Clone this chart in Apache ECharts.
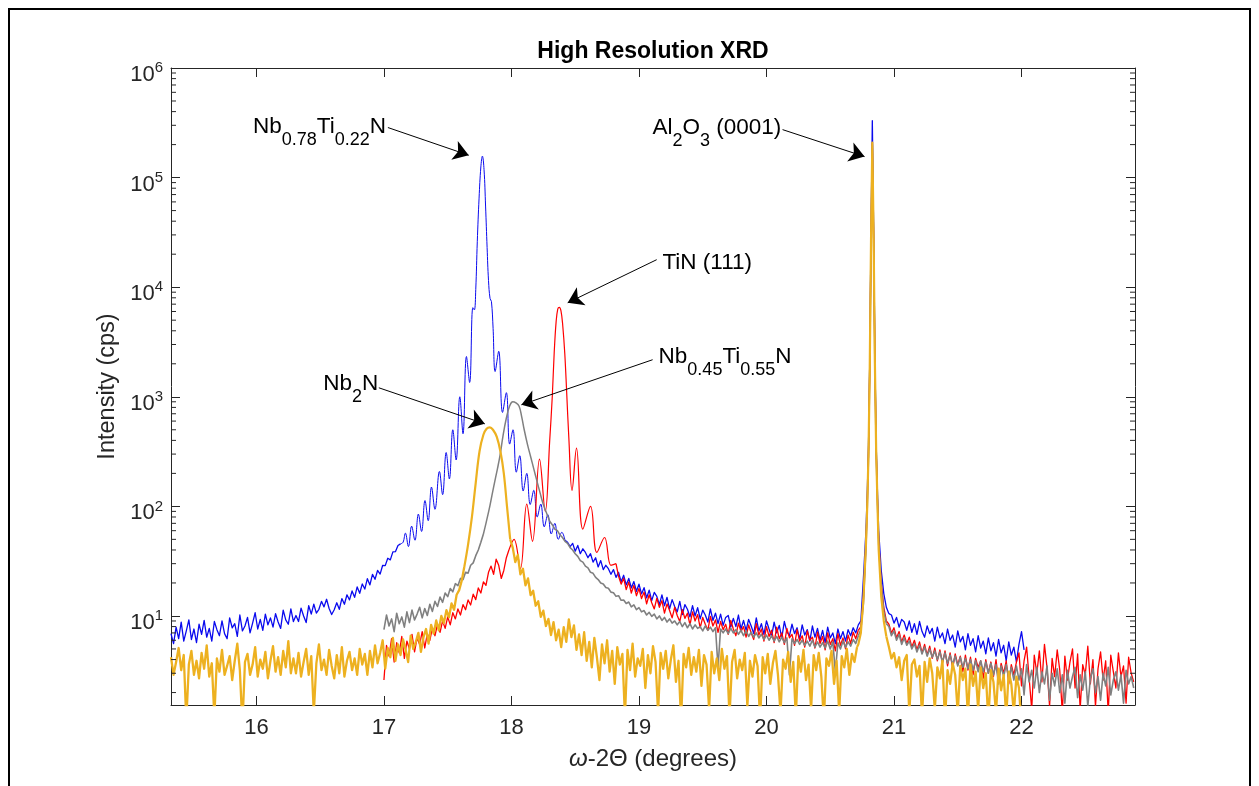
<!DOCTYPE html>
<html><head><meta charset="utf-8">
<script src="https://cdn.jsdelivr.net/npm/echarts@6/dist/echarts.min.js"></script>
<style>
html,body{margin:0;padding:0;background:#fff;overflow:hidden;}
#frame{position:absolute;left:8px;top:8px;width:1243px;height:900px;border:2px solid #000;box-sizing:border-box;}
#chart{position:absolute;left:0;top:0;width:1259px;height:786px;}
</style></head><body>
<div id="frame"></div>
<div id="chart"></div>
<script>
// ===================== DATA =====================
// Nb0.78Ti0.22N (blue)
const blueNoiseLeft = [ // 15.33 .. 17.13, step 0.02
6.9,5.6,7.9,6.2,8.8,5.9,7.3,9.2,6.1,7.6,
5.7,8.4,6.8,9.1,6.4,7.7,5.9,8.9,7.5,6.6,
9.0,6.9,6.2,9.6,7.8,8.5,6.5,10.2,7.3,8.1,
9.7,7.0,8.6,10.7,7.6,9.3,7.4,10.4,8.3,9.6,
7.9,10.5,8.8,7.7,11.3,9.2,8.4,11.6,8.9,10.1,
8.9,11.8,10.0,8.7,12.4,10.4,12.8,10.6,11.5,13.6,
12.1,14.2,11.7,10.3,11.4,13.2,11.5,14.4,12.8,15.6,
14.0,16.9,14.8,18.4,16.1,19.6,17.6,21.9,19.2,24.0,
21.6,26.0,24.1,29.0,28.8,33.6,32.5,38.4,38.6,44.0,45.5];
const blueFringes = [ // [2theta, cps] extrema of the thickness fringes
[17.15,47],[17.168,57],[17.192,43],[17.217,66],[17.243,49],[17.27,85],[17.295,59],[17.322,113],
[17.347,74],[17.373,150],[17.40,94],[17.435,208],[17.46,128],[17.488,310],[17.513,178],[17.54,500],
[17.566,265],[17.595,1000],[17.62,460],[17.647,2330],[17.672,1350],[17.697,6500],[17.709,6200],
[17.72,9500],[17.732,26000],[17.746,65000],[17.76,125000],[17.772,157000],[17.785,118000],
[17.797,55000],[17.809,23000],[17.82,11500],[17.832,7900],[17.843,7400],[17.856,4200],[17.872,1700],
[17.90,2600],[17.93,720],[17.96,1090],[17.986,370],[18.012,500],[18.038,205],[18.065,290],
[18.092,138],[18.12,200],[18.147,104],[18.175,140],[18.202,80],[18.23,105],[18.257,65],[18.285,84],
[18.312,56],[18.34,70],[18.367,50],[18.395,58],[18.42,49]];
const blueNoiseRight = [ // 18.44 .. 20.74, step 0.02
47,43,46,39,44,37,41,38,34,37,
31,34,28,32,26.5,29,27,24,26.5,22.5,
25,20.5,23.5,19.2,22,18.0,20.6,16.8,19.5,15.9,
18.1,14.6,17.2,13.8,16.4,15.1,12.7,15.6,12.4,14.8,
11.6,14.1,12.2,10.9,13.6,10.3,12.7,11.5,9.8,12.4,
10.0,11.9,9.4,11.3,10.2,8.8,11.6,9.1,10.6,8.5,
10.4,8.2,9.7,10.1,7.9,9.5,8.0,10.2,7.6,9.1,
7.4,9.3,8.1,6.9,9.6,7.3,8.5,6.8,9.0,7.6,
6.5,8.8,7.0,8.2,6.3,8.9,7.2,6.6,8.4,6.9,
7.8,6.1,8.3,6.7,7.5,5.9,8.1,6.4,7.7,6.0,
7.4,5.7,7.9,6.3,7.0,5.6,7.6,6.2,7.2,5.9,
7.5,6.6,7.8,7.0,8.3,9.0];
const blueSubstrate = [
[20.76,22],[20.78,60],[20.79,130],[20.80,350],[20.81,2200],[20.82,32000],[20.83,330000],
[20.84,35000],[20.85,2500],[20.86,380],[20.87,140],[20.88,60],[20.90,26],[20.92,16],[20.94,12],[20.96,10.5]];
const blueNoiseFar = [ // 20.98 .. 22.02, step 0.02
10.2,8.6,9.7,7.9,9.3,8.8,7.4,9.0,7.1,8.5,
6.8,8.9,7.2,6.4,8.1,6.9,7.7,5.9,7.9,6.3,
7.0,5.6,7.6,6.0,6.7,5.2,7.3,5.8,6.5,4.9,
6.9,5.4,6.2,4.7,6.6,5.1,5.9,4.5,6.3,4.8,
5.7,4.3,6.1,4.6,5.4,3.9,5.8,4.4,5.2,3.8,
5.5,7.2,4.9];

// TiN (111) (red)
const redNoiseLeft = [ // 17.00 .. 17.98, step 0.02
2.6,5.4,4.3,6.2,3.8,5.7,4.6,6.5,4.1,5.9,
5.0,6.8,4.7,6.3,5.5,7.2,5.1,6.9,6.0,7.8,
6.6,8.4,7.1,9.0,7.7,9.8,8.3,10.7,9.4,11.6,
10.2,12.7,11.4,14.0,12.6,15.8,14.1,18.0,16.2,20.5,
19.0,25.0,28.5,24.0,33.0,29.0,22.0,26.0,34.0,40.0];
const redFringes = [
[18.02,50],[18.07,27],[18.12,105],[18.165,48],[18.22,270],[18.265,90],[18.30,400],[18.32,1000],
[18.335,2500],[18.35,4800],[18.363,6300],[18.375,6540],[18.388,6100],[18.402,4500],[18.418,2500],
[18.433,1100],[18.45,420],[18.475,140],[18.51,340],[18.56,62],[18.62,100],[18.67,38],[18.73,52],
[18.78,29],[18.82,30]];
const redNoiseRight = [ // 18.84 .. 20.72, step 0.02
23,19.5,22,17.4,20.4,16.2,19.0,15.3,17.8,14.4,
16.5,12.9,15.6,13.2,11.6,14.5,12.0,13.8,10.6,12.9,
11.2,9.6,12.0,10.1,8.9,11.4,9.5,10.6,8.3,10.9,
9.0,10.3,7.8,9.7,8.4,7.4,9.9,8.1,9.2,7.1,
8.9,7.5,8.4,6.8,9.1,7.6,6.6,8.6,7.2,8.0,
6.4,8.3,7.0,6.1,8.5,6.7,7.6,5.9,8.0,6.5,
7.4,5.7,7.9,6.2,7.0,5.5,7.7,6.3,6.8,5.4,
7.5,5.9,6.6,5.2,7.3,6.0,6.4,5.1,7.1,5.6,
6.5,4.9,7.0,5.5,6.2,4.8,6.9,5.4,6.3,5.0,
6.7,5.6,7.1,6.2,7.4];
const redSubstrate = [
[20.74,8],[20.76,14],[20.78,45],[20.79,100],[20.80,300],[20.81,1900],[20.82,27000],[20.83,205000],
[20.84,29000],[20.85,2100],[20.86,330],[20.87,115],[20.88,48],[20.90,20],[20.92,12],[20.94,9]];
const redNoiseFar = [ // 20.96 .. 22.88, step 0.02
8.4,7.0,7.8,6.3,7.2,5.8,6.7,5.6,6.4,5.2,
6.0,4.9,5.8,4.6,5.5,4.4,5.3,4.1,5.1,3.9,
4.9,3.7,4.8,3.5,4.6,3.3,4.5,3.6,4.3,3.1,
4.4,3.2,4.2,2.9,4.1,3.4,3.9,2.7,4.0,3.0,
3.8,2.8,4.0,2.5,3.7,3.0,3.9,2.4,3.6,2.9,
3.8,4.6,2.3,3.9,5.2,2.7,1.4,4.4,3.0,4.8,
2.5,5.5,3.4,1.5,4.1,2.8,4.9,3.2,1.3,4.3,
2.6,3.8,5.0,2.2,4.5,1.4,3.6,2.9,5.3,2.4,
4.0,1.5,3.3,4.7,2.6,3.9,1.3,4.4,3.1,2.2,
4.6,2.8,3.5,1.6,4.2,3.0,2.5];

// Nb0.45Ti0.55N (gray)
const grayNoiseLeft = [ // 17.00 .. 17.78, step 0.02
7.5,10.2,8.1,9.4,7.2,10.6,8.5,9.8,7.9,10.9,
8.7,11.3,9.2,10.4,12.0,9.6,11.7,10.1,12.8,11.0,
13.6,12.2,14.9,13.3,16.2,15.0,17.8,16.6,19.7,18.9,
22.0,21.4,25.0,24.6,29.0,30.5,35.5,40.0,47.0,56.0];
const grayPeak = [
[17.80,70],[17.83,100],[17.86,150],[17.89,220],[17.91,290],[17.935,450],[17.96,640],[17.985,820],
[18.01,900],[18.035,880],[18.06,820],[18.08,660],[18.10,500],[18.125,370],[18.15,285],[18.175,220],
[18.20,170],[18.225,132],[18.25,104],[18.28,84],[18.30,73]];
const grayNoiseRight = [ // 18.32 .. 20.72, step 0.02
68,62,60,55,52,48,46,42,40,37,
35,32,31,28.5,27.5,25,24.5,22.5,21.5,20,
19.6,18.2,17.9,16.5,16.3,15.1,15.3,13.9,14.0,13.0,
13.4,12.1,12.6,11.4,11.9,10.9,11.2,10.2,10.8,9.9,
10.4,9.4,10.0,9.1,9.7,8.8,9.4,8.6,9.0,8.3,
8.9,8.0,8.7,7.8,8.5,7.6,8.3,7.7,8.0,7.3,
8.1,7.4,7.9,7.2,7.8,3.4,7.6,7.0,7.6,6.9,
7.7,7.0,7.5,6.8,7.4,6.6,7.3,6.5,7.1,6.4,
7.0,6.3,6.8,6.1,6.7,6.0,6.6,5.9,6.5,5.8,
6.4,5.7,6.3,2.9,6.2,5.6,6.1,5.5,6.0,5.4,
5.9,5.3,6.0,5.2,5.8,5.2,5.7,5.1,5.9,5.0,
5.8,3.1,5.7,5.0,5.9,5.2,5.8,5.3,6.1,5.6,
6.6];
const graySubstrate = [
[20.74,7.5],[20.76,13],[20.78,42],[20.79,95],[20.80,290],[20.81,1800],[20.82,26000],[20.83,200000],
[20.84,28000],[20.85,2000],[20.86,320],[20.87,110],[20.88,45],[20.90,19],[20.92,11],[20.94,8.5]];
const grayNoiseFar = [ // 20.96 .. 22.88, step 0.02
8.0,6.6,7.3,6.0,6.8,5.5,6.3,5.4,5.9,5.0,
5.6,4.7,5.4,4.5,5.2,4.3,5.0,4.2,4.8,4.0,
4.7,3.8,4.6,3.7,4.4,3.6,4.3,3.5,4.2,3.4,
4.1,3.3,4.0,3.2,3.9,3.1,3.9,3.1,3.8,3.0,
3.7,2.9,3.6,2.4,3.5,2.8,3.6,2.7,3.4,2.6,
3.5,2.6,3.3,1.9,3.6,2.5,3.2,2.2,3.4,2.0,
3.1,2.4,3.5,1.7,3.0,2.3,3.3,2.0,2.9,1.6,
3.2,2.2,2.8,3.4,1.8,2.9,2.1,3.1,1.5,2.7,
3.3,2.0,2.8,1.7,3.0,2.3,3.4,1.9,2.6,3.1,
2.1,2.9,1.6,3.2,2.4,2.8,2.2];

// Nb2N (orange)
const orangeNoiseLeft = [ // 15.33 .. 17.63, step 0.02
4.2,2.9,3.8,5.1,3.2,4.4,1.1,3.6,4.8,2.9,
3.9,2.7,4.6,3.3,5.4,2.8,3.7,1.2,4.1,3.1,
4.9,2.9,3.5,4.3,2.6,3.9,5.6,3.2,1.0,3.8,
4.5,2.9,3.6,5.2,2.8,4.0,3.3,4.7,2.7,3.9,
5.3,3.1,4.2,2.9,4.8,3.4,5.9,3.0,4.1,3.0,
4.6,2.8,3.8,5.0,2.9,4.3,1.3,3.7,5.5,3.2,
4.0,2.9,4.9,3.5,2.7,4.4,3.0,5.2,2.8,3.9,
4.7,3.2,4.1,2.9,5.0,3.6,4.5,2.9,4.8,3.4,
5.4,3.7,4.6,6.0,3.3,5.1,4.2,6.3,3.9,5.5,
4.4,6.1,4.9,3.8,6.6,5.0,5.8,7.0,4.7,6.4,
7.6,5.6,8.3,6.9,9.1,7.4,10.0,8.6,11.3,9.7,
13.0,11.4,15.6,17.2,21.0,28.0];
const orangePeak = [
[17.66,45],[17.69,80],[17.72,165],[17.75,320],[17.78,450],[17.805,510],[17.83,525],[17.855,500],
[17.885,430],[17.915,310],[17.94,200],[17.965,100],[17.99,50]];
const orangeNoiseRight = [ // 18.01 .. 20.71, step 0.02
42,31,36,24,27,19,22,15.5,17.0,12.4,
13.6,9.8,11.2,8.1,9.4,6.7,8.8,6.0,7.5,5.2,
7.9,5.8,9.3,6.4,8.2,4.9,6.8,4.4,7.1,3.9,
5.8,3.4,6.3,4.2,2.6,5.5,3.7,6.0,3.1,4.8,
2.4,5.2,3.6,4.5,1.2,4.9,3.2,5.6,2.8,4.1,
3.5,5.0,2.2,4.4,3.0,5.3,3.8,1.3,4.6,3.3,
4.8,2.7,4.0,5.4,2.5,3.9,1.1,4.5,3.4,5.1,
2.9,4.2,3.1,4.9,2.3,4.4,3.6,1.4,4.7,3.0,
4.1,2.6,5.0,3.3,4.3,1.2,3.8,4.9,2.7,4.0,
3.2,4.6,1.5,3.9,2.8,4.4,3.5,1.1,4.2,3.0,
4.5,2.4,3.7,4.8,2.9,1.3,4.0,3.3,4.7,2.5,
3.8,1.2,4.3,3.1,4.9,2.6,3.6,1.4,4.4,3.2,
4.6,2.8,1.1,4.1,3.5,4.8,2.4,3.9,1.3,4.3,
3.4,5.0,2.9,4.5,3.8,5.2];
const orangeSubstrate = [
[20.72,5.5],[20.74,7],[20.76,14],[20.78,45],[20.79,100],[20.80,300],[20.81,1900],[20.82,28000],
[20.83,209000],[20.84,30000],[20.85,2100],[20.86,330],[20.87,110],[20.88,40],[20.90,15],[20.92,9],[20.94,6.5]];
const orangeNoiseFar = [ // 20.96 .. 22.00, step 0.02
5.2,4.1,4.6,3.4,4.2,2.6,3.9,4.4,1.3,3.6,
4.0,2.8,3.5,1.2,3.8,2.5,4.1,3.0,1.4,3.4,
2.7,3.9,1.1,3.2,2.4,3.7,2.9,1.3,3.5,2.6,
3.3,1.2,3.6,2.3,3.1,1.4,3.4,2.2,3.0,1.1,
3.2,2.5,1.3,3.3,2.1,2.9,1.2,3.1,2.4,1.3,
2.8,2.2,1.0];

// minor tick values of the log axis
const yMinorTicks = [2,3,4,5,6,7,8,9,20,30,40,50,60,70,80,90,200,300,400,500,600,700,800,900,
2000,3000,4000,5000,6000,7000,8000,9000,20000,30000,40000,50000,60000,70000,80000,90000,
200000,300000,400000,500000,600000,700000,800000,900000];

// annotations: text anchor [x, cps], side, and arrow [from, to]
const annotations = [
  {text:'Nb{s|0.78}Ti{s|0.22}N', at:[17.02,290000], side:'left',  from:[17.031,286200], to:[17.665,159900]},
  {text:'Al{s|2}O{s|3} (0001)',   at:[20.12,286000], side:'left',  from:[20.126,274000], to:[20.769,155500]},
  {text:'TiN (111)',              at:[19.18,16750],  side:'right', from:[19.139,17820],  to:[18.441,7210]},
  {text:'Nb{s|0.45}Ti{s|0.55}N', at:[19.15,2320],   side:'right', from:[19.107,2178],   to:[18.078,845]},
  {text:'Nb{s|2}N',               at:[16.96,1315],   side:'left',  from:[16.960,1208],   to:[17.791,566]}
];

// ===================== CHART =====================
const X_MIN = 15.33, X_MAX = 22.89, Y_MIN = 1.54, Y_MAX = 1e6;
const FONT = '"Liberation Sans", Arial, Helvetica, sans-serif';
const AX = '#262626';

function seg(x0, dx, vals){ return vals.map((v,i)=>[Math.round((x0+i*dx)*1000)/1000, v]); }
function build(parts, color){
  const out = []; let prev = null;
  parts.forEach(p=>{
    const data = prev ? [prev].concat(p.pts) : p.pts.slice();
    prev = p.pts[p.pts.length-1];
    out.push({type:'line', data, smooth:p.smooth||false, symbol:'none', showSymbol:false,
      lineStyle:{color, width:p.w, join:'round'}, itemStyle:{color}, emphasis:{disabled:true},
      silent:true, animation:false, clip:true});
  });
  return out;
}
const blue = build([
  {pts:seg(15.33,0.02,blueNoiseLeft), w:1.3},
  {pts:blueFringes, smooth:0.4, w:1},
  {pts:seg(18.44,0.02,blueNoiseRight), w:1.3},
  {pts:blueSubstrate, w:1.3},
  {pts:seg(20.98,0.02,blueNoiseFar), w:1.3}], '#0a0aee');
const red = build([
  {pts:seg(17.00,0.02,redNoiseLeft), w:1.3},
  {pts:redFringes, smooth:0.4, w:1.2},
  {pts:seg(18.84,0.02,redNoiseRight), w:1.3},
  {pts:redSubstrate, w:1.3},
  {pts:seg(20.96,0.02,redNoiseFar), w:1.3}], '#ff0000');
const gray = build([
  {pts:seg(17.00,0.02,grayNoiseLeft), w:1.6},
  {pts:grayPeak, smooth:0.4, w:1.5},
  {pts:seg(18.32,0.02,grayNoiseRight), w:1.6},
  {pts:graySubstrate, w:1.6},
  {pts:seg(20.96,0.02,grayNoiseFar), w:1.6}], '#808080');
const orange = build([
  {pts:seg(15.33,0.02,orangeNoiseLeft), w:2.3},
  {pts:orangePeak, smooth:0.4, w:2.2},
  {pts:seg(18.01,0.02,orangeNoiseRight), w:2.3},
  {pts:orangeSubstrate, w:2.2},
  {pts:seg(20.96,0.02,orangeNoiseFar), w:2.3}], '#EDB120');

const minorTickSeries = {
  type:'custom', silent:true, clip:false, z:5, animation:false,
  data: yMinorTicks.map(v=>[X_MIN, v]),
  encode:{x:0, y:1},
  renderItem:(params, api)=>{
    const v = api.value(1);
    const l = api.coord([X_MIN, v]), r = api.coord([X_MAX, v]);
    return {type:'group', children:[
      {type:'line', shape:{x1:l[0], y1:l[1], x2:l[0]+5, y2:l[1]}, style:{stroke:AX, lineWidth:1}},
      {type:'line', shape:{x1:r[0], y1:r[1], x2:r[0]-5, y2:r[1]}, style:{stroke:AX, lineWidth:1}}
    ]};
  }
};

const labelRich = {
  s:{fontSize:18, fontFamily:FONT, color:'#000', padding:[26,0,0,0]}
};
const annotationSeries = {
  type:'line', data:[], silent:true, z:20, animation:false,
  markLine:{
    silent:true, animation:false, symbol:['none','arrow'], symbolSize:15,
    lineStyle:{color:'#000', width:1, type:'solid'}, label:{show:false},
    emphasis:{disabled:true},
    data: annotations.map(a=>[{coord:a.from},{coord:a.to}])
  },
  markPoint:{
    silent:true, animation:false, symbol:'circle', symbolSize:1, itemStyle:{color:'rgba(0,0,0,0)'},
    data: annotations.map(a=>({coord:a.at, value:a.text,
      label:{show:true, position:a.side, distance:0, formatter:a.text,
        fontSize:22.5, fontFamily:FONT, color:'#000', rich:labelRich}}))
  }
};

const chart = echarts.init(document.getElementById('chart'), null, {renderer:'canvas'});
chart.setOption({
  animation:false,
  textStyle:{fontFamily:FONT},
  grid:{left:171, right:124, top:68, bottom:81},
  graphic:[{type:'text', x:653, y:52, silent:true,
    style:{text:'High Resolution XRD', fontSize:23, fontWeight:'bold', fontFamily:FONT, fill:'#000',
      align:'center', verticalAlign:'middle'}}],
  xAxis:[
    {type:'value', min:X_MIN, max:X_MAX, splitNumber:7, position:'bottom',
     axisLine:{show:true, lineStyle:{color:AX, width:1}},
     axisTick:{show:true, inside:true, length:9, lineStyle:{color:AX}},
     axisLabel:{fontSize:22, color:AX, margin:12, fontFamily:FONT,
       formatter:v=>Math.abs(v-Math.round(v))<1e-6 ? String(Math.round(v)) : ''},
     splitLine:{show:false},
     name:'{i|ω}-2Θ (degrees)', nameLocation:'middle', nameGap:42,
     nameTextStyle:{fontSize:24, color:AX, fontFamily:FONT,
       rich:{i:{fontStyle:'italic', fontSize:24, color:AX, fontFamily:FONT}}}},
    {type:'value', min:X_MIN, max:X_MAX, splitNumber:7, position:'top',
     axisLine:{show:true, lineStyle:{color:AX, width:1}},
     axisTick:{show:true, inside:true, length:9, lineStyle:{color:AX}},
     axisLabel:{show:false}, splitLine:{show:false}}
  ],
  yAxis:[
    {type:'log', logBase:10, min:Y_MIN, max:Y_MAX, position:'left',
     axisLine:{show:true, lineStyle:{color:AX, width:1}},
     axisTick:{show:true, inside:true, length:9, lineStyle:{color:AX}},
     axisLabel:{fontSize:22, color:AX, margin:8, fontFamily:FONT,
       formatter:v=>{const e=Math.log10(v), r=Math.round(e); return Math.abs(e-r)>1e-6 ? '' : '{b|10}{p|'+r+'}';},
       rich:{b:{fontSize:22, color:AX, fontFamily:FONT, padding:[14,0,0,0]},
             p:{fontSize:15, color:AX, fontFamily:FONT}}},
     splitLine:{show:false},
     name:'Intensity (cps)', nameLocation:'middle', nameGap:40, nameRotate:90,
     nameTextStyle:{fontSize:23.5, color:AX, fontFamily:FONT}},
    {type:'log', logBase:10, min:Y_MIN, max:Y_MAX, position:'right',
     axisLine:{show:true, lineStyle:{color:AX, width:1}},
     axisTick:{show:true, inside:true, length:9, lineStyle:{color:AX}},
     axisLabel:{show:false}, splitLine:{show:false}}
  ],
  series: [].concat(blue, red, gray, orange, [minorTickSeries, annotationSeries])
});
</script>
</body></html>
